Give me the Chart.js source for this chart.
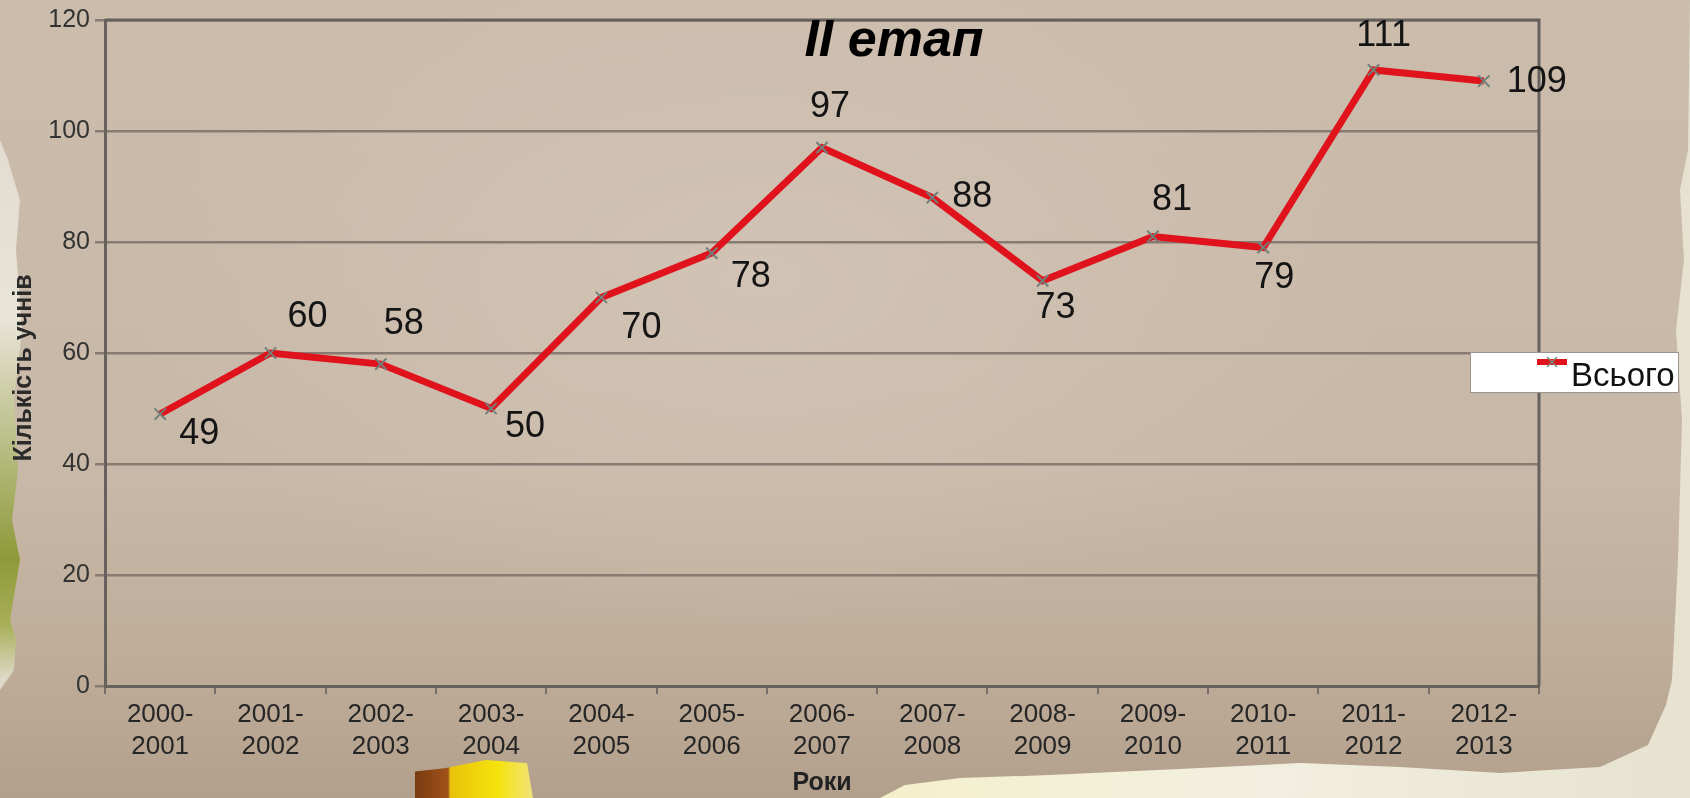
<!DOCTYPE html>
<html>
<head>
<meta charset="utf-8">
<script src="https://cdn.jsdelivr.net/npm/chart.js@4.4.1/dist/chart.umd.min.js"></script>
<style>
html,body{margin:0;padding:0;width:1690px;height:798px;overflow:hidden;}
body{position:relative;background:linear-gradient(90deg,#e9e6cf 0%,#efe9a6 35%,#f4f0cf 55%,#f2efe0 75%,#e6e2cf 100%);}
#leftbg{position:absolute;left:0;top:0;width:40px;height:798px;background:linear-gradient(180deg,#ddd6c8 0%,#e8e4d8 40%,#8e9a3a 70%,#a6ae55 78%,#ded8c6 85%,#d9d3c3 100%);}
#paper{position:absolute;left:0;top:0;width:1690px;height:798px;
  background:
    radial-gradient(ellipse 900px 500px at 45% 35%, rgba(210,196,182,0.9) 0%, rgba(200,186,171,0) 70%),
    linear-gradient(180deg,#cbbcac 0%,#c8b8a7 60%,#bfad9a 82%,#b3a08c 100%);
  clip-path:polygon(0px 0px,1690px 0px,1688px 150px,1680px 190px,1684px 260px,1676px 330px,1682px 420px,1678px 560px,1674px 640px,1672px 680px,1666px 705px,1648px 745px,1600px 767px,1500px 773px,1400px 767px,1300px 763px,1200px 768px,1050px 775px,960px 778px,905px 785px,880px 798px,0px 798px,0px 690px,14px 670px,16px 640px,10px 620px,20px 560px,12px 520px,18px 470px,14px 400px,22px 330px,16px 250px,20px 200px,8px 160px,0px 140px);}
#tape{position:absolute;left:415px;top:760px;width:118px;height:38px;
  background:linear-gradient(90deg,#7a3a12 0%,#a05318 28%,#e8c20a 30%,#f6e30c 70%,#efe27a 100%);
  clip-path:polygon(0 30%,25% 22%,60% 0,95% 8%,100% 100%,0 100%);}
#wrap{position:absolute;left:0;top:0;width:1690px;height:798px;}
</style>
</head>
<body>
<div id="leftbg"></div>
<div id="paper"></div>
<div id="tape"></div>
<div id="wrap"><canvas id="c" width="1690" height="798"></canvas></div>
<script>
// ---- data ----
const categories = [
  ['2000-','2001'],['2001-','2002'],['2002-','2003'],['2003-','2004'],
  ['2004-','2005'],['2005-','2006'],['2006-','2007'],['2007-','2008'],
  ['2008-','2009'],['2009-','2010'],['2010-','2011'],['2011-','2012'],['2012-','2013']
];
const totals = [49, 60, 58, 50, 70, 78, 97, 88, 73, 81, 79, 111, 109];
const yTickValues = [0, 20, 40, 60, 80, 100, 120];
const seriesName = 'Всього';
const chartTitle = 'II етап';
const xAxisTitle = 'Роки';
const yAxisTitle = 'Кількість учнів';
// data-label placement relative to each point (dx, dy)
const labelOffsets = [[39,20],[37,-36],[23,-40],[34,19],[40,31],[39,24],[8,-41],[40,-1],[13,27],[19,-36],[11,31],[10,-34],[53,1]];

const FONT = "'Liberation Sans', Arial, sans-serif";

const decor = {
  id: 'decor',
  beforeDatasetsDraw(chart) {
    const {ctx, chartArea: a} = chart;
    ctx.save();
    ctx.strokeStyle = '#66615c';
    ctx.lineWidth = 3;
    ctx.beginPath();
    ctx.moveTo(a.left, a.top);
    ctx.lineTo(a.right, a.top);
    ctx.lineTo(a.right, a.bottom);
    ctx.stroke();
    ctx.restore();
  },
  afterDatasetsDraw(chart) {
    const {ctx} = chart;
    const meta = chart.getDatasetMeta(0);
    ctx.save();
    ctx.font = '36px ' + FONT;
    ctx.fillStyle = '#141414';
    ctx.textAlign = 'center';
    ctx.textBaseline = 'middle';
    meta.data.forEach((pt, i) => {
      const o = labelOffsets[i];
      ctx.fillText(String(totals[i]), pt.x + o[0], pt.y + o[1]);
    });
    // title
    ctx.font = 'italic bold 52px ' + FONT;
    ctx.fillStyle = '#000';
    ctx.textBaseline = 'alphabetic';
    ctx.fillText(chartTitle, 894, 56);
    // y axis title
    ctx.save();
    ctx.translate(24, 368);
    ctx.rotate(-Math.PI / 2);
    ctx.font = 'bold 25px ' + FONT;
    ctx.fillStyle = '#2a2a2a';
    ctx.textBaseline = 'middle';
    ctx.fillText(yAxisTitle, 0, 0);
    ctx.restore();
    // legend
    const lx = 1470, ly = 352, lw = 208, lh = 40;
    ctx.fillStyle = '#ffffff';
    ctx.fillRect(lx, ly, lw, lh);
    ctx.strokeStyle = '#9a948e';
    ctx.lineWidth = 1;
    ctx.strokeRect(lx + 0.5, ly + 0.5, lw, lh);
    ctx.strokeStyle = '#e0121c';
    ctx.lineWidth = 6;
    ctx.beginPath();
    ctx.moveTo(1537, 362); ctx.lineTo(1567, 362);
    ctx.stroke();
    ctx.strokeStyle = '#7c8a84';
    ctx.lineWidth = 1.5;
    ctx.beginPath();
    ctx.moveTo(1547, 357); ctx.lineTo(1557, 367);
    ctx.moveTo(1557, 357); ctx.lineTo(1547, 367);
    ctx.stroke();
    ctx.save();
    ctx.beginPath();
    ctx.rect(lx, ly, lw, lh);
    ctx.clip();
    ctx.font = '33px ' + FONT;
    ctx.fillStyle = '#111';
    ctx.textAlign = 'left';
    ctx.textBaseline = 'alphabetic';
    ctx.fillText(seriesName, 1571, 386);
    ctx.restore();
    ctx.restore();
  }
};

new Chart(document.getElementById('c'), {
  type: 'line',
  data: {
    labels: categories,
    datasets: [{
      label: seriesName,
      data: totals,
      borderColor: '#e0121c',
      borderWidth: 7,
      tension: 0,
      fill: false,
      pointStyle: 'crossRot',
      pointRadius: 8,
      pointBorderColor: '#72807a',
      pointBorderWidth: 2,
      pointBackgroundColor: 'rgba(0,0,0,0)'
    }]
  },
  options: {
    responsive: false,
    animation: false,
    devicePixelRatio: 1,
    layout: {padding: {left: 0, right: 151, top: 18, bottom: 0}},
    plugins: {legend: {display: false}, title: {display: false}, tooltip: {enabled: false}},
    scales: {
      x: {
        offset: true,
        grid: {offset: true, drawOnChartArea: false, drawTicks: true, tickLength: 8, color: '#77706a', lineWidth: 2},
        border: {display: true, color: '#66615c', width: 3},
        ticks: {color: '#262626', font: {family: FONT, size: 26, lineHeight: 1.23}, padding: 5, maxRotation: 0, autoSkip: false},
        title: {display: true, text: xAxisTitle, color: '#222', font: {family: FONT, size: 25, weight: 'bold'}, padding: 0},
        afterFit(s) { s.height = 112; }
      },
      y: {
        min: 0, max: 120,
        afterBuildTicks(s) { s.ticks = yTickValues.map(v => ({value: v})); },
        grid: {color: '#877b72', lineWidth: 2.5, tickLength: 10, drawTicks: true},
        border: {display: true, color: '#66615c', width: 3},
        ticks: {color: '#333', font: {family: FONT, size: 25}, padding: 5},
        afterFit(s) { s.width = 105; }
      }
    }
  },
  plugins: [decor]
});
</script>
</body>
</html>
